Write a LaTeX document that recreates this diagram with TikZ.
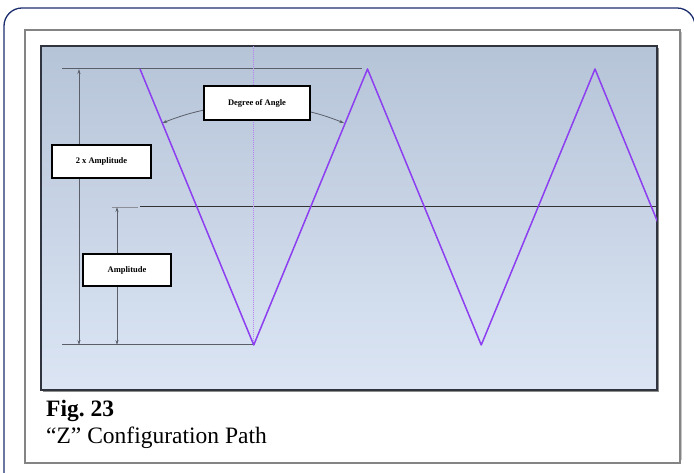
\documentclass[tikz,border=0pt]{standalone}
\usepackage[table]{xcolor}
\usepackage{fontspec}
\setmainfont{Liberation Serif}
\usepackage{tikz}
\usetikzlibrary{arrows.meta,calc}
\definecolor{zigpurple}{RGB}{140,62,240}
\definecolor{framenavy}{RGB}{28,45,110}
\definecolor{panelborder}{RGB}{48,52,62}
\definecolor{paneltop}{RGB}{182,196,216}
\definecolor{panelbottom}{RGB}{219,229,244}
\definecolor{framegray}{RGB}{132,132,132}
\definecolor{dimgray}{RGB}{90,95,105}

\begin{document}
\begin{tikzpicture}[x=1pt,y=1pt,
  labelbox/.style={draw=black,fill=white,line width=1.6pt,inner sep=0pt,font=\fontsize{8.5}{10}\selectfont\bfseries},
  dimline/.style={draw=dimgray,line width=0.8pt,{Stealth[length=5pt,width=3pt]}-{Stealth[length=5pt,width=3pt]}},
  refline/.style={draw=dimgray,line width=1pt},
  zigline/.style={draw=zigpurple,line width=1.5pt,line join=round}]
\useasboundingbox (0,0) rectangle (694,473);
\draw[framenavy,line width=1.3pt,rounded corners=18pt] (4,-20) rectangle (695,465);
\fill[gray!45] (27,13) rectangle (682,441);
\draw[framegray,line width=2.6pt,fill=white] (25,10) rectangle (680,443);
\fill[black!45] (43,81) rectangle (659,425);
\shade[top color=paneltop,bottom color=panelbottom] (41,83) rectangle (657,427);
\draw[panelborder,line width=2pt] (41,83) rectangle (657,427);
\coordinate (v1) at (253.75,128);
\coordinate (p1) at (140,404);
\coordinate (p2) at (367.5,404);
\coordinate (topl) at (62,404);
\coordinate (topr) at (362,404);
\coordinate (botl) at (62,128);
\coordinate (midl) at (112,266);
\coordinate (mids) at (138,266);
\coordinate (midr) at (140,266);
\coordinate (mide) at (657,266);
\coordinate (dimtop) at (79,404);
\coordinate (dimbot) at (79,128);
\coordinate (ampmid) at (117,266);
\coordinate (ampbot) at (117,128);
\coordinate (ptop) at (253.75,427);
\draw[refline] (topl) -- (topr);
\draw[refline] (botl) -- (v1);
\draw[dimgray!70,line width=0.8pt] (midl) -- (mids);
\draw[black!80,line width=1pt] (midr) -- (mide);
\draw[zigpurple!65,line width=0.8pt,dash pattern=on 1pt off 1pt] (ptop) -- (v1);
\begin{scope}
\clip (41,83) rectangle (657,427);
\draw[zigline] (p1) -- (v1) -- (p2) -- (481.25,128) -- (595,404) -- (665,233);
\end{scope}
\draw[dimline] (dimtop) -- (dimbot);
\draw[dimline] (ampmid) -- (ampbot);
\draw[dimline] ($(v1)!240pt!(p1)$) arc[start angle=112.27,end angle=67.73,radius=240];
\node[labelbox,minimum width=106,minimum height=34] (deg) at (257,370) {Degree of Angle};
\node[labelbox,minimum width=99,minimum height=33] (twoamp) at (101.5,311.5) {2 x Amplitude};
\node[labelbox,minimum width=88,minimum height=32] (amp) at (127,203) {Amplitude};
\node[anchor=base west,inner sep=0pt,font=\fontsize{23.5}{26}\selectfont\bfseries] (fig) at (46,56) {Fig.~23};
\node[anchor=base west,inner sep=0pt,font=\fontsize{23.5}{26}\selectfont] (cap) at (46,29) {``Z'' Configuration Path};
\end{tikzpicture}
\end{document}
